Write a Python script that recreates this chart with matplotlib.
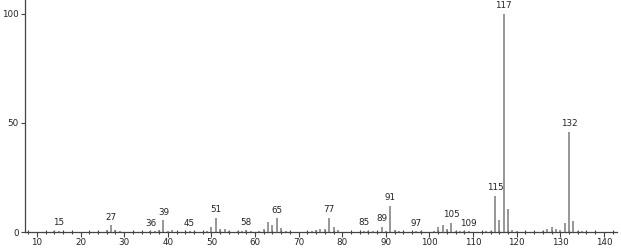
import matplotlib
matplotlib.use("Agg")
import matplotlib.pyplot as plt
from matplotlib.ticker import MultipleLocator

mz = [14, 15, 26, 27, 28, 29, 36, 37, 38, 39, 40, 41, 45, 49, 50, 51, 52, 53, 54,
      56, 57, 58, 59, 61, 62, 63, 64, 65, 66, 67, 73, 74, 75, 76, 77, 78, 79,
      85, 86, 87, 89, 90, 91, 92, 93, 97, 98, 101, 102, 103, 104, 105, 106, 107,
      108, 109, 113, 114, 115, 116, 117, 118, 119, 120, 126, 127, 128, 129, 130,
      131, 132, 133, 134, 135]
intensity = [0.3, 0.6, 0.8, 3.2, 0.8, 0.4, 0.3, 0.4, 0.8, 5.5, 0.5, 1.0, 0.3, 0.5,
             2.4, 6.5, 1.5, 1.3, 0.5, 0.3, 0.5, 0.8, 0.3, 0.6, 1.5, 4.5, 3.2, 6.4,
             2.0, 0.5, 0.5, 1.0, 1.5, 1.2, 6.5, 2.3, 1.0, 0.6, 0.5, 0.5, 2.4, 0.5,
             12.0, 1.0, 0.5, 0.4, 0.3, 0.4, 2.5, 3.0, 1.5, 4.3, 0.5, 0.3, 0.3, 0.4,
             0.4, 0.5, 16.5, 5.5, 100.0, 10.5, 1.0, 0.4, 0.5, 1.2, 2.5, 1.5, 1.0,
             4.3, 46.0, 5.0, 0.6, 0.3]
labeled = [15, 27, 36, 39, 45, 51, 58, 65, 77, 85, 89, 91, 97, 105, 109, 115, 117, 132]
xticks = list(range(10, 141, 10))
yticks = [0, 50, 100]

W, H = 621, 249
fig = plt.figure(figsize=(W / 100, H / 100), dpi=100)
ax = fig.add_axes([25 / W, 17 / H, (617 - 25) / W, 232 / H])

ax.vlines(mz, 0, intensity, colors="#7a7a7a", linewidth=1.1)
lookup = dict(zip(mz, intensity))
for m in labeled:
    ax.annotate(str(m), (m, lookup[m]), xytext=(0, 2.5), textcoords="offset points",
                ha="center", va="bottom", fontsize=6.3, color="#222222")

ax.set_xlim(7.25, 143.0)
ax.set_ylim(0, 106.2)
ax.set_xticks(xticks)
ax.set_yticks(yticks)
ax.xaxis.set_minor_locator(MultipleLocator(2))
for s in ["top", "right"]:
    ax.spines[s].set_visible(False)
for s in ["left", "bottom"]:
    ax.spines[s].set_color("#444444")
    ax.spines[s].set_linewidth(0.9)
ax.tick_params(axis="x", which="major", direction="out", length=3.5, width=0.8,
               color="#444444", labelsize=6.3, pad=0.8, labelcolor="#222222")
ax.tick_params(axis="x", which="minor", direction="inout", length=3, width=0.8,
               color="#444444")
ax.tick_params(axis="y", which="major", direction="out", length=3, width=0.8,
               color="#444444", labelsize=6.3, pad=1.5, labelcolor="#222222")

fig.savefig("out.png", dpi=100)
